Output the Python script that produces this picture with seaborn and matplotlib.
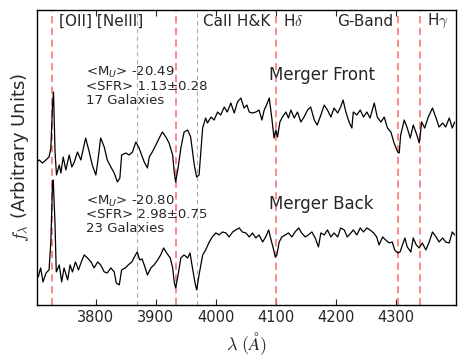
import numpy as np
import pandas as pd
import seaborn as sns
import matplotlib
matplotlib.use('Agg')
import matplotlib.pyplot as plt

# wavelengths (Angstrom) and flux (arbitrary)
wave_front = [3700, 3705.6, 3711, 3716.7, 3722, 3725, 3727.8, 3729.4, 3732, 3734.4, 3739, 3741.7,
              3745.6, 3750, 3755.6, 3760, 3764, 3769.4, 3775, 3783, 3789, 3794, 3800, 3804, 3808,
              3814, 3819, 3825, 3830.6, 3836, 3840, 3843, 3850, 3855.6, 3861, 3866.7, 3872,
              3880.6, 3886, 3889, 3894, 3900, 3905.6, 3911, 3916.7, 3922, 3928, 3930.6, 3933,
              3937, 3941.7, 3947, 3953, 3958, 3964, 3968, 3972, 3978, 3983, 3986, 3992, 3997,
              4003, 4008, 4014, 4019, 4025, 4030.6, 4036, 4041.7, 4047, 4051.7, 4055.6, 4061,
              4066.7, 4072, 4076.7, 4080.6, 4084.4, 4089, 4093, 4097, 4100, 4102.8, 4106.7, 4111,
              4116.7, 4121, 4125, 4130.6, 4136, 4141.7, 4147, 4152.8, 4158, 4164, 4169, 4175,
              4180.6, 4186, 4191.7, 4197, 4203, 4208, 4212, 4216.7, 4222, 4226.7, 4229, 4235,
              4240.6, 4246, 4251.7, 4257, 4264, 4269, 4275, 4280.6, 4286, 4291.7, 4297, 4303,
              4305.6, 4308, 4314, 4319, 4324, 4329, 4335, 4339, 4343, 4348, 4354, 4361, 4367,
              4372, 4378, 4383, 4389, 4394, 4398]
flux_front = [142, 145, 142, 145, 148, 157, 200, 213, 153, 130, 140, 132,
              148, 135, 150, 138, 143, 153, 145, 167, 153, 140, 130, 147, 167,
              158, 145, 138, 132, 123, 127, 150, 152, 150, 153, 163, 157,
              143, 137, 148, 153, 160, 167, 173, 168, 162, 150, 133, 123,
              137, 157, 173, 175, 168, 140, 128, 130, 177, 187, 182, 188, 185,
              193, 190, 198, 193, 202, 192, 203, 207, 197, 200, 193, 192,
              193, 195, 185, 195, 200, 207, 188, 167, 175, 168, 183, 188,
              193, 187, 195, 187, 193, 183, 188, 195, 198, 185, 180, 190,
              200, 195, 188, 197, 192, 198, 205, 193, 183, 177, 193, 190,
              195, 188, 193, 187, 202, 188, 183, 188, 177, 173, 162, 153,
              152, 170, 185, 177, 167, 180, 170, 162, 183, 177, 188, 197, 187,
              178, 182, 178, 187, 177, 183]

wave_back = [3700, 3704, 3708, 3712, 3717, 3722, 3725, 3727.8, 3729, 3732, 3734, 3739, 3743,
             3747, 3753, 3757, 3761, 3766, 3771, 3777, 3780.6, 3786, 3792, 3797, 3803, 3808,
             3814, 3819, 3825, 3830.6, 3834, 3839, 3843, 3849, 3854, 3860, 3866, 3869, 3873,
             3877, 3880.6, 3886, 3891.7, 3897, 3903, 3908, 3913, 3918, 3924, 3928, 3930.6,
             3933, 3937, 3941.7, 3947, 3953, 3957, 3961, 3965, 3968, 3972, 3978, 3983, 3989,
             3994, 4000, 4005.6, 4011, 4016.7, 4022, 4028, 4033, 4039, 4044, 4050, 4055.6,
             4061, 4066.7, 4072, 4078, 4083, 4088, 4092, 4095.6, 4099, 4101.7, 4105.6, 4110,
             4115.6, 4121, 4126.7, 4132, 4138, 4143, 4149, 4154, 4160, 4165.6, 4171, 4175,
             4180.6, 4186, 4191.7, 4197, 4203, 4208, 4214, 4219, 4225, 4229, 4235, 4240.6,
             4246, 4251.7, 4257, 4263, 4268, 4272, 4278, 4283, 4289, 4294, 4298, 4303, 4307,
             4311, 4315, 4319, 4325, 4329, 4334, 4339, 4344, 4350, 4355.6, 4361, 4367, 4372,
             4378, 4383, 4389, 4394, 4398]
flux_back = [33, 28, 37, 23, 32, 35, 63, 123, 125, 80, 33, 40, 23,
             37, 25, 40, 33, 43, 35, 45, 50, 47, 43, 37, 43, 40,
             33, 32, 37, 33, 22, 20, 35, 37, 40, 43, 50, 53, 45,
             46, 40, 30, 37, 40, 45, 50, 57, 52, 47, 37, 23,
             17, 30, 47, 50, 47, 52, 37, 23, 15, 30, 50, 55, 63,
             68, 72, 70, 73, 72, 68, 73, 75, 77, 73, 72, 68,
             72, 67, 70, 63, 68, 75, 65, 57, 48, 50, 63, 68,
             70, 72, 68, 73, 77, 72, 68, 70, 73, 67, 58, 72,
             70, 75, 68, 72, 68, 77, 75, 68, 72, 75, 70, 77,
             73, 77, 75, 72, 68, 60, 68, 65, 62, 63, 55, 52, 53,
             60, 67, 58, 53, 67, 60, 57, 62, 55, 63, 73, 68, 63,
             67, 63, 62, 73, 70]

red_lines = [3727, 3934, 4101, 4304, 4340]
gray_lines = [3869, 3969]

line_labels = ['[OII] [NeIII]', 'CaII H&K', r'H$\delta$', 'G-Band', r'H$\gamma$']
line_label_x = [3738, 3978, 4112, 4202, 4352]

front_stats = ['<M$_U$> -20.49', '<SFR> 1.13±0.28', '17 Galaxies']
back_stats = ['<M$_U$> -20.80', '<SFR> 2.98±0.75', '23 Galaxies']

sns.set_style('ticks')
plt.rcParams['font.family'] = ['DejaVu Sans']
plt.rcParams['xtick.direction'] = 'in'
plt.rcParams['mathtext.fontset'] = 'dejavusans'

df = pd.concat([
    pd.DataFrame({'wave': wave_front, 'flux': flux_front, 'group': 'Merger Front'}),
    pd.DataFrame({'wave': wave_back, 'flux': flux_back, 'group': 'Merger Back'}),
])

fig, ax = plt.subplots(figsize=(4.69, 3.6), dpi=100)
fig.subplots_adjust(left=0.079, right=0.972, bottom=0.153, top=0.972)

for w in red_lines:
    ax.axvline(w, color='#ff7070', ls=(0, (4, 2.5)), lw=1.3, alpha=0.9, zorder=1)
for w in gray_lines:
    ax.axvline(w, color='#aaaaaa', ls=(0, (4, 3)), lw=0.8, zorder=1)

sns.lineplot(data=df, x='wave', y='flux', units='group', estimator=None,
             color='black', lw=0.9, ax=ax, zorder=3)

for lab, x in zip(line_labels, line_label_x):
    ax.text(x, 284, lab, fontsize=11, va='center', ha='left', math_fontfamily='cm')

for i, s in enumerate(front_stats):
    ax.text(3783, 233 - i * 14, s, fontsize=9.5, va='center', ha='left')
for i, s in enumerate(back_stats):
    ax.text(3783, 104 - i * 14, s, fontsize=9.5, va='center', ha='left')

ax.text(4088, 230, 'Merger Front', fontsize=12, va='center', ha='left')
ax.text(4088, 101, 'Merger Back', fontsize=12, va='center', ha='left')

ax.set_xlim(3702, 4400)
ax.set_ylim(0, 295)
ax.set_xticks([3800, 3900, 4000, 4100, 4200, 4300])
ax.set_yticks([])
ax.tick_params(axis='x', top=True, bottom=True, length=4, labelsize=10.5)
ax.set_xlabel(r'$\lambda\ (\AA)$', fontsize=13, math_fontfamily='cm')
ax.set_ylabel(r'$f_\lambda$ (Arbitrary Units)', fontsize=13, math_fontfamily='cm')
for sp in ax.spines.values():
    sp.set_linewidth(1.0)
    sp.set_color('black')

fig.savefig('out.png', dpi=100)
